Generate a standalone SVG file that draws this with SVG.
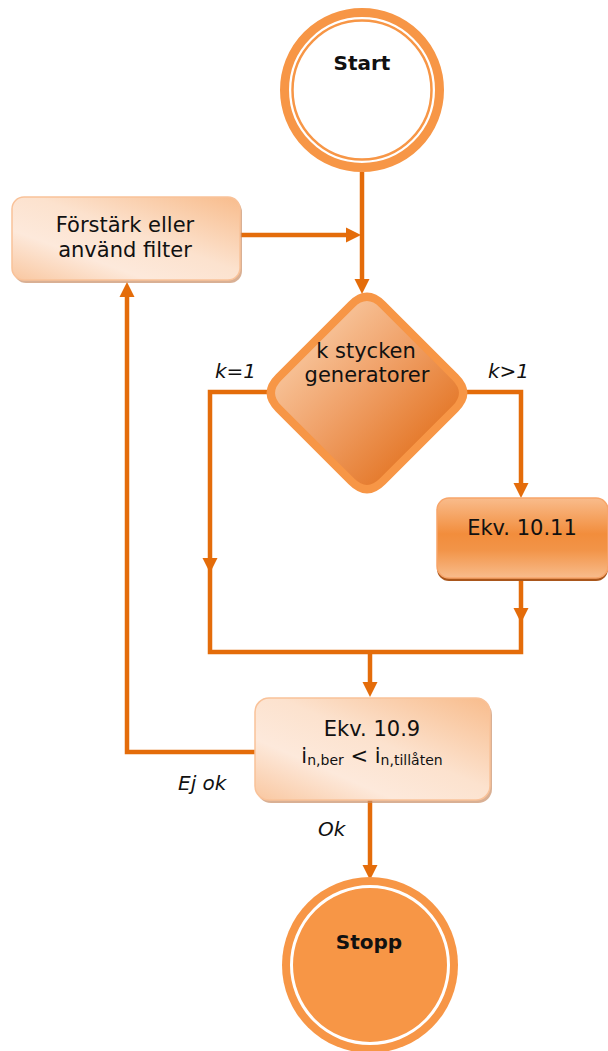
<svg xmlns="http://www.w3.org/2000/svg" xmlns:xlink="http://www.w3.org/1999/xlink" width="608" height="1051" viewBox="0 0 608 1051">
  <style>
    .conn { fill: none; stroke: #E46C0A; stroke-width: 4.5; stroke-linejoin: miter; }
    .ah { fill: #E46C0A; }
    .t { font-family: "DejaVu Sans", Verdana, sans-serif; font-size: 21px; fill: #111; text-anchor: middle; }
    .b { font-weight: bold; font-size: 20px; }
    .lbl { font-family: "DejaVu Sans", Verdana, sans-serif; font-size: 20px; font-style: italic; fill: #111; }
    .ring { fill: none; stroke: #F79646; }
  </style>
  <defs>
    <linearGradient id="gLight" x1="1" y1="0" x2="0" y2="1">
      <stop offset="0" stop-color="#F8BC8C"/>
      <stop offset="0.45" stop-color="#FCE2CE"/>
      <stop offset="0.7" stop-color="#FDE9DB"/>
      <stop offset="1" stop-color="#F9C7A0"/>
    </linearGradient>
    <linearGradient id="gMid" x1="0" y1="0" x2="0" y2="1">
      <stop offset="0" stop-color="#F9BC8C"/>
      <stop offset="0.45" stop-color="#F28D3C"/>
      <stop offset="0.65" stop-color="#F29448"/>
      <stop offset="1" stop-color="#F8BC8C"/>
    </linearGradient>
    <linearGradient id="gDia" x1="0.15" y1="0.15" x2="0.85" y2="0.85">
      <stop offset="0" stop-color="#F9CBA4"/>
      <stop offset="0.45" stop-color="#F0A26A"/>
      <stop offset="1" stop-color="#E2701D"/>
    </linearGradient>
    <path id="ah" d="M0,0 L-7.5,-15 L7.5,-15 Z"/>
  </defs>

  <g id="connectors">
    <polyline class="conn" points="362,172 362,282"/>
    <polyline class="conn" points="240,235 350,235"/>
    <polyline class="conn" points="268,392 210,392 210,652 521,652 521,578"/>
    <polyline class="conn" points="466,392 521,392 521,486"/>
    <polyline class="conn" points="370,652 370,686"/>
    <polyline class="conn" points="256,752 127,752 127,293"/>
    <polyline class="conn" points="370,800 370,868"/>
    <use xlink:href="#ah" class="ah" transform="translate(362,294)"/>
    <use xlink:href="#ah" class="ah" transform="translate(361,235) rotate(-90)"/>
    <use xlink:href="#ah" class="ah" transform="translate(521,498)"/>
    <use xlink:href="#ah" class="ah" transform="translate(521,623)"/>
    <use xlink:href="#ah" class="ah" transform="translate(210,573)"/>
    <use xlink:href="#ah" class="ah" transform="translate(370,697)"/>
    <use xlink:href="#ah" class="ah" transform="translate(127,282) rotate(180)"/>
    <use xlink:href="#ah" class="ah" transform="translate(370,880)"/>
  </g>

  <g id="start">
    <circle cx="362" cy="90" r="77.5" fill="#FFFFFF" class="ring" stroke-width="9"/>
    <circle cx="362" cy="90" r="69.5" class="ring" stroke-width="2.5"/>
    <text class="t b" x="362" y="70">Start</text>
  </g>

  <g id="forstark">
    <rect x="14" y="200" width="228" height="83" rx="12" fill="#C98F66" opacity="0.7"/>
    <rect x="12" y="197" width="228" height="83" rx="12" fill="url(#gLight)" stroke="#F9C299" stroke-width="1.5"/>
    <text class="t" x="125" y="232">Förstärk eller</text>
    <text class="t" x="125" y="257">använd filter</text>
  </g>

  <g id="decision">
    <path d="M382.6,304.6 L455.4,377.4 Q471,393 455.4,408.6 L382.6,481.4 Q367,497 351.4,481.4 L278.6,408.6 Q263,393 278.6,377.4 L351.4,304.6 Q367,289 382.6,304.6 Z" fill="url(#gDia)" stroke="#F79646" stroke-width="8"/>
    <text class="t" x="366" y="358">k stycken</text>
    <text class="t" x="367" y="382">generatorer</text>
  </g>

  <g id="ekv1011">
    <rect x="437" y="501" width="171" height="80" rx="12" fill="#A9561B"/>
    <rect x="437" y="498" width="171" height="80" rx="12" fill="url(#gMid)" stroke="#F7A56A" stroke-width="1.5"/>
    <text class="t" x="522" y="535">Ekv. 10.11</text>
  </g>

  <g id="ekv109">
    <rect x="257" y="701" width="235" height="102" rx="14" fill="#C98F66" opacity="0.7"/>
    <rect x="255" y="698" width="235" height="102" rx="14" fill="url(#gLight)" stroke="#F9C299" stroke-width="1.5"/>
    <text class="t" x="372" y="736">Ekv. 10.9</text>
    <text class="t" x="372" y="763">i<tspan font-size="14" dy="2">n,ber</tspan><tspan dy="-2"> &lt; i</tspan><tspan font-size="14" dy="2">n,tillåten</tspan></text>
  </g>

  <g id="stopp">
    <circle cx="370" cy="965" r="88" fill="#F79646"/>
    <circle cx="370" cy="965" r="78.5" fill="none" stroke="#FFFFFF" stroke-width="3"/>
    <text class="t b" x="369" y="949">Stopp</text>
  </g>

  <g id="labels">
    <text class="lbl" x="215" y="378">k=1</text>
    <text class="lbl" x="488" y="378">k&gt;1</text>
    <text class="lbl" x="178" y="790">Ej ok</text>
    <text class="lbl" x="318" y="836">Ok</text>
  </g>
</svg>
